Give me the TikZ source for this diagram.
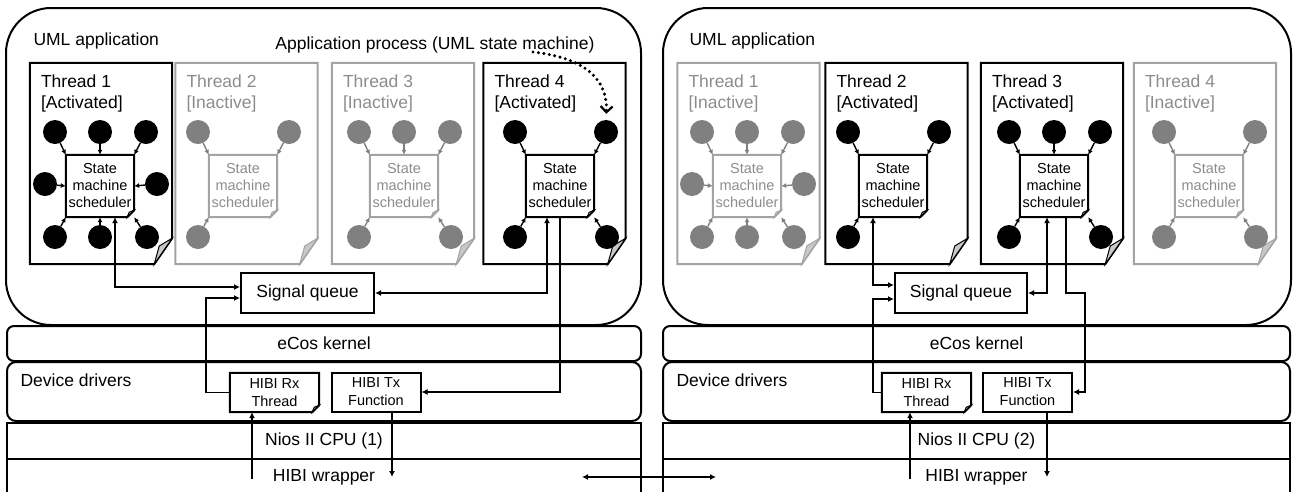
\documentclass[tikz,border=0pt]{standalone}
\usepackage{fontspec}
\setmainfont{Liberation Sans}
\usepackage{tikz}
\usetikzlibrary{positioning,arrows.meta}

\definecolor{offline}{HTML}{A3A3A3}
\definecolor{offdot}{HTML}{808080}
\definecolor{offtext}{HTML}{8C8C8C}
\definecolor{foldgray}{HTML}{C8C8C8}

% page with a folded corner, drawn round a node
\newcommand{\foldpage}[4]{%
  \draw[line width=2pt, #4] (#1.north west) -- (#1.north east) -- ([yshift=#3]#1.south east)
    -- ([xshift=-#2]#1.south east) -- (#1.south west) -- cycle;
  \filldraw[line width=1pt, #4, fill=foldgray] ([yshift=#3]#1.south east)
    -- ([xshift=-#2]#1.south east) -- ([xshift=-0.72*#2, yshift=0.7*#3]#1.south east) -- cycle;
}

% states round a scheduler: name/dx/dy/anchor
\def\fullset{tl/-45/-54/north west, tm/0/-54/north, tr/46/-54/north east, ml/-55/-2/west, mr/57/-2/east, bl/-45/51/south west, bm/0/51/south, br/47/51/south east}
\def\threeset{tl/-45/-54/north west, tr/46/-54/north east, bl/-45/51/south west}
\def\fourset{tl/-45/-54/north west, tr/46/-54/north east, bl/-45/51/south west, br/47/51/south east}
\def\fiveset{tl/-45/-54/north west, tm/0/-54/north, tr/46/-54/north east, bl/-45/51/south west, br/47/51/south east}

\begin{document}
\begin{tikzpicture}[
    x=1pt, y=-1pt,
    font=\fontsize{17.5}{20}\selectfont,
    layer/.style={draw, line width=2pt, inner sep=0pt},
    thread/.style={minimum width=142, minimum height=201, inner sep=0pt},
    thrlabel/.style={anchor=north west, align=left, inner sep=0pt, font=\fontsize{17.5}{20.5}\selectfont},
    sched/.style={minimum width=68, minimum height=62, inner sep=0pt, align=center, font=\fontsize{14.5}{17}\selectfont},
    ioproc/.style={minimum width=89, minimum height=39, inner sep=0pt, align=center, font=\fontsize{14.5}{18}\selectfont},
    stdot/.style={circle, fill=black, minimum size=24, inner sep=0pt},
    idledot/.style={stdot, fill=offdot},
    starrow/.style={-{Latex[length=5pt,width=5pt]}, line width=1.4pt},
    arrow/.style={-{Latex[length=6pt,width=6pt]}, line width=1.7pt},
    biarrow/.style={{Latex[length=6pt,width=6pt]}-{Latex[length=6pt,width=6pt]}, line width=1.7pt},
    dotarrow/.style={-{Straight Barb[length=6pt,width=12pt,line width=2.2pt]}, line width=3.4pt, dash pattern=on 0pt off 5.5pt, line cap=round, shorten >=6pt}
]
\useasboundingbox (0,0) rectangle (1296,491);

% Left CPU - layers
\node[layer, rounded corners=45, minimum width=635, minimum height=317] (app1) at (323.5,166.5) {};
\node[anchor=base west] (uml1) at (30,45.5) {UML application};
\node[anchor=base east] (proc) at (598,49) {Application process (UML state machine)};
\node[layer, rounded corners=7, minimum width=634, minimum height=35] (ecos1) at (324,343.5) {eCos kernel};
\node[layer, rounded corners=9, minimum width=634, minimum height=59] (drv1) at (324,391.5) {};
\node[anchor=base west] (drvl1) at (17,386) {Device drivers};
\node[layer, minimum width=634, minimum height=36] (nios1) at (324,441) {Nios II CPU (1)};
\node[layer, minimum width=634, minimum height=36] (hw1) at (324,477) {HIBI wrapper};

% Right CPU - layers
\node[layer, rounded corners=45, minimum width=628, minimum height=317] (app2) at (977,166.5) {};
\node[anchor=base west] (uml2) at (686,45.5) {UML application};
\node[layer, rounded corners=7, minimum width=627, minimum height=35] (ecos2) at (976.5,343.5) {eCos kernel};
\node[layer, rounded corners=9, minimum width=627, minimum height=59] (drv2) at (976.5,391.5) {};
\node[anchor=base west] (drvl2) at (673,386) {Device drivers};
\node[layer, minimum width=627, minimum height=36] (nios2) at (976.5,441) {Nios II CPU (2)};
\node[layer, minimum width=627, minimum height=36] (hw2) at (976.5,477) {HIBI wrapper};

% Left CPU - threads
\node[thread] (lt1) at (101,163.5) {};
\foldpage{lt1}{18}{26}{black}
\node[thrlabel] (lt1n) at ([shift={(11,12)}]lt1.north west) {Thread 1\\{[Activated]}};
\node[sched] (ls1) at (100,186) {State\\machine\\scheduler};
\foldpage{ls1}{7}{7}{black}
\foreach \p/\dx/\dy/\a in \fullset
  {\node[stdot] (ls1\p) at ([shift={(\dx,\dy)}]ls1.center) {}; \draw[starrow] (ls1\p) -- (ls1.\a);}

\node[thread] (lt2) at (246.5,163.5) {};
\foldpage{lt2}{18}{26}{offline}
\node[thrlabel, text=offtext] (lt2n) at ([shift={(11,12)}]lt2.north west) {Thread 2\\{[Inactive]}};
\node[sched, text=offtext] (ls2) at (243,186) {State\\machine\\scheduler};
\foldpage{ls2}{7}{7}{offline}
\foreach \p/\dx/\dy/\a in \threeset
  {\node[idledot] (ls2\p) at ([shift={(\dx,\dy)}]ls2.center) {}; \draw[starrow, offdot] (ls2\p) -- (ls2.\a);}

\node[thread] (lt3) at (403,163.5) {};
\foldpage{lt3}{18}{26}{offline}
\node[thrlabel, text=offtext] (lt3n) at ([shift={(11,12)}]lt3.north west) {Thread 3\\{[Inactive]}};
\node[sched, text=offtext] (ls3) at (404,186) {State\\machine\\scheduler};
\foldpage{ls3}{7}{7}{offline}
\foreach \p/\dx/\dy/\a in \fiveset
  {\node[idledot] (ls3\p) at ([shift={(\dx,\dy)}]ls3.center) {}; \draw[starrow, offdot] (ls3\p) -- (ls3.\a);}

\node[thread] (lt4) at (554.5,163.5) {};
\foldpage{lt4}{18}{26}{black}
\node[thrlabel] (lt4n) at ([shift={(11,12)}]lt4.north west) {Thread 4\\{[Activated]}};
\node[sched] (ls4) at (560,186) {State\\machine\\scheduler};
\foldpage{ls4}{7}{7}{black}
\foreach \p/\dx/\dy/\a in \fourset
  {\node[stdot] (ls4\p) at ([shift={(\dx,\dy)}]ls4.center) {}; \draw[starrow] (ls4\p) -- (ls4.\a);}

% Right CPU - threads
\node[thread] (rt1) at (748.5,163.5) {};
\foldpage{rt1}{18}{26}{offline}
\node[thrlabel, text=offtext] (rt1n) at ([shift={(11,12)}]rt1.north west) {Thread 1\\{[Inactive]}};
\node[sched, text=offtext] (rs1) at (747,186) {State\\machine\\scheduler};
\foldpage{rs1}{7}{7}{offline}
\foreach \p/\dx/\dy/\a in \fullset
  {\node[idledot] (rs1\p) at ([shift={(\dx,\dy)}]rs1.center) {}; \draw[starrow, offdot] (rs1\p) -- (rs1.\a);}

\node[thread] (rt2) at (896.5,163.5) {};
\foldpage{rt2}{18}{26}{black}
\node[thrlabel] (rt2n) at ([shift={(11,12)}]rt2.north west) {Thread 2\\{[Activated]}};
\node[sched] (rs2) at (893,186) {State\\machine\\scheduler};
\foldpage{rs2}{7}{7}{black}
\foreach \p/\dx/\dy/\a in \threeset
  {\node[stdot] (rs2\p) at ([shift={(\dx,\dy)}]rs2.center) {}; \draw[starrow] (rs2\p) -- (rs2.\a);}

\node[thread] (rt3) at (1052,163.5) {};
\foldpage{rt3}{18}{26}{black}
\node[thrlabel] (rt3n) at ([shift={(11,12)}]rt3.north west) {Thread 3\\{[Activated]}};
\node[sched] (rs3) at (1054,186) {State\\machine\\scheduler};
\foldpage{rs3}{7}{7}{black}
\foreach \p/\dx/\dy/\a in \fiveset
  {\node[stdot] (rs3\p) at ([shift={(\dx,\dy)}]rs3.center) {}; \draw[starrow] (rs3\p) -- (rs3.\a);}

\node[thread] (rt4) at (1205,163.5) {};
\foldpage{rt4}{18}{26}{offline}
\node[thrlabel, text=offtext] (rt4n) at ([shift={(11,12)}]rt4.north west) {Thread 4\\{[Inactive]}};
\node[sched, text=offtext] (rs4) at (1209,186) {State\\machine\\scheduler};
\foldpage{rs4}{7}{7}{offline}
\foreach \p/\dx/\dy/\a in \fourset
  {\node[idledot] (rs4\p) at ([shift={(\dx,\dy)}]rs4.center) {}; \draw[starrow, offdot] (rs4\p) -- (rs4.\a);}

% Signal queues and drivers
\node[layer, minimum width=133, minimum height=40] (sq1) at (307.5,293) {Signal queue};
\node[ioproc] (rx1) at (274.5,392.5) {HIBI Rx\\Thread};
\foldpage{rx1}{7}{7}{black}
\node[ioproc, layer] (tx1) at (376,392) {HIBI Tx\\Function};

\node[layer, minimum width=132, minimum height=40] (sq2) at (961,293) {Signal queue};
\node[ioproc] (rx2) at (926.5,392.5) {HIBI Rx\\Thread};
\foldpage{rx2}{7}{7}{black}
\node[ioproc, layer] (tx2) at (1027.5,392) {HIBI Tx\\Function};

% Connections - left CPU
\draw[dotarrow] ([xshift=-65, yshift=-3]proc.base east) .. controls +(45,5) and +(2,-45) .. (ls4tr.north);
\draw[biarrow] ([xshift=15]ls1.south) |- ([yshift=6]sq1.west);
\draw[arrow] (rx1.west) -- ++(-24,0) |- ([yshift=-5]sq1.west);
\draw[biarrow] ([xshift=-13]ls4.south) |- (sq1.east);
\draw[arrow] (ls4.south) |- (tx1.east);
\coordinate (rxin1) at (252,479);
\draw[arrow] (rxin1) -- (rxin1 |- rx1.south);
\coordinate (txout1) at (392,477);
\draw[arrow] (txout1 |- tx1.south) -- (txout1);

% Connections - right CPU
\draw[biarrow] ([xshift=-20]rs2.south) |- ([yshift=8]sq2.west);
\draw[arrow] (rx2.west) -- ++(-9,0) |- ([yshift=-6]sq2.west);
\draw[biarrow] ([xshift=-7]rs3.south) |- (sq2.east);
\draw[arrow] ([xshift=12]rs3.south) -- ++(0,76) -- ++(19,0) |- (tx2.east);
\coordinate (rxin2) at (910,479);
\draw[arrow] (rxin2) -- (rxin2 |- rx2.south);
\coordinate (txout2) at (1047,477);
\draw[arrow] (txout2 |- tx2.south) -- (txout2);

% HIBI link
\coordinate (hwl) at (582,477);
\coordinate (hwr) at (716,477);
\draw[biarrow] (hwl) -- (hwr);

\end{tikzpicture}
\end{document}
